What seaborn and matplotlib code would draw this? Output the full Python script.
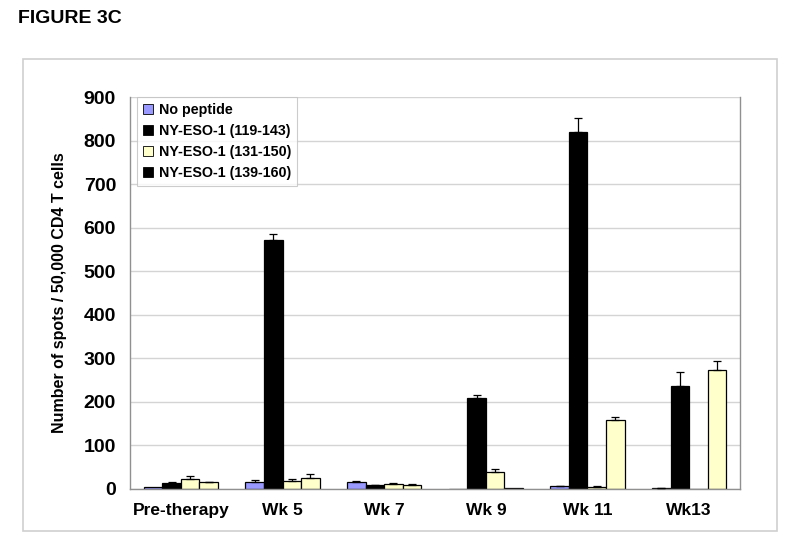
import pandas as pd
import numpy as np
import matplotlib
matplotlib.use("Agg")
import matplotlib.pyplot as plt
import seaborn as sns
from matplotlib.patches import Patch, Rectangle

# Data
categories = ["Pre-therapy", "Wk 5", "Wk 7", "Wk 9", "Wk 11", "Wk13"]
series_names = ["No peptide", "NY-ESO-1 (119-143)", "NY-ESO-1 (131-150)", "NY-ESO-1 (139-160)"]

no_peptide = [4, 16, 15, 1, 6, 2]
no_peptide_err = [0, 4, 3, 0, 1.5, 1]
eso_119 = [14, 573, 9, 210, 820, 237]
eso_119_err = [2, 12, 1, 6, 32, 31]
eso_131 = [22, 18, 11, 38, 5, 0]
eso_131_err = [8, 4, 2, 8, 1, 0]
eso_139 = [15, 26, 10, 2, 158, 273]
eso_139_err = [2, 8, 1, 0, 7, 20]

values = [no_peptide, eso_119, eso_131, eso_139]
errors = [no_peptide_err, eso_119_err, eso_131_err, eso_139_err]

# bar fills, and the (slightly different) swatches shown in the legend
bar_colors = ["#9999FF", "#000000", "#FFFFCC", "#FFFFCC"]
legend_colors = ["#9999FF", "#000000", "#FFFFCC", "#000000"]

rows = []
for name, vals in zip(series_names, values):
    for cat, v in zip(categories, vals):
        rows.append({"Timepoint": cat, "Peptide": name, "Spots": v})
df = pd.DataFrame(rows)

sns.set_theme(style="white")
plt.rcParams["font.family"] = ["Liberation Sans", "DejaVu Sans"]
plt.rcParams["font.weight"] = "bold"
plt.rcParams["text.color"] = "black"
plt.rcParams["xtick.color"] = "black"
plt.rcParams["ytick.color"] = "black"
plt.rcParams["axes.labelcolor"] = "black"

fig = plt.figure(figsize=(8.0, 5.39), dpi=100)
ax = fig.add_axes([0.1625, 0.0928, 0.7625, 0.727])

sns.barplot(
    data=df, x="Timepoint", y="Spots", hue="Peptide",
    order=categories, hue_order=series_names,
    palette=dict(zip(series_names, bar_colors)),
    width=0.73, errorbar=None, edgecolor="black", linewidth=0.9,
    saturation=1, legend=False, ax=ax,
)

# one-sided error bars on top of each bar
for container, errs in zip(ax.containers, errors):
    for bar, e in zip(container, errs):
        x = bar.get_x() + bar.get_width() / 2
        h = bar.get_height()
        if e > 0:
            ax.errorbar(x, h, yerr=[[0], [e]], fmt="none", ecolor="black",
                        elinewidth=0.9, capsize=3, capthick=0.9, zorder=3)

ax.set_ylim(0, 900)
ax.set_xlim(-0.5, len(categories) - 0.5)
ax.set_yticks(np.arange(0, 901, 100))
ax.yaxis.grid(True, color="#d4d4d4", linewidth=1)
ax.set_axisbelow(True)

ax.tick_params(axis="y", labelsize=14, length=0, pad=10, labelcolor="black")
ax.tick_params(axis="x", labelsize=12.5, length=0, pad=10, labelcolor="black")
for lbl in ax.get_xticklabels() + ax.get_yticklabels():
    lbl.set_fontweight("bold")

# category boundary tick marks on the x axis
ax.set_xticks(np.arange(-0.5, len(categories), 1.0), minor=True)
ax.tick_params(axis="x", which="minor", length=5, width=0.8, color="#909090", direction="out")

for side in ["left", "bottom", "right"]:
    ax.spines[side].set_color("#909090")
    ax.spines[side].set_linewidth(1)
ax.spines["top"].set_visible(False)

ax.set_xlabel("")
ax.set_ylabel("Number of spots / 50,000 CD4 T cells", fontsize=11.5, fontweight="bold",
              color="black", labelpad=12)

handles = [Patch(facecolor=c, edgecolor="black", linewidth=0.6) for c in legend_colors]
leg = ax.legend(handles, series_names, loc="upper left", bbox_to_anchor=(0.012, 1.0),
                prop={"size": 10.3, "weight": "bold"}, frameon=True, fancybox=False,
                handlelength=0.7, handleheight=0.7, handletextpad=0.4, labelspacing=0.5,
                borderpad=0.4, borderaxespad=0, labelcolor="black")
leg.get_frame().set_edgecolor("#c0c0c0")
leg.get_frame().set_linewidth(0.8)

# outer chart frame and figure label
fig.patches.append(Rectangle((0.029, 0.0148), 0.942, 0.8757, transform=fig.transFigure,
                             fill=False, edgecolor="#cfcfcf", linewidth=1.2))
fig.text(0.022, 0.965, "FIGURE 3C", fontsize=14, fontweight="bold", ha="left", va="center",
         color="black")

fig.savefig("out.png", dpi=100)
plt.close(fig)
